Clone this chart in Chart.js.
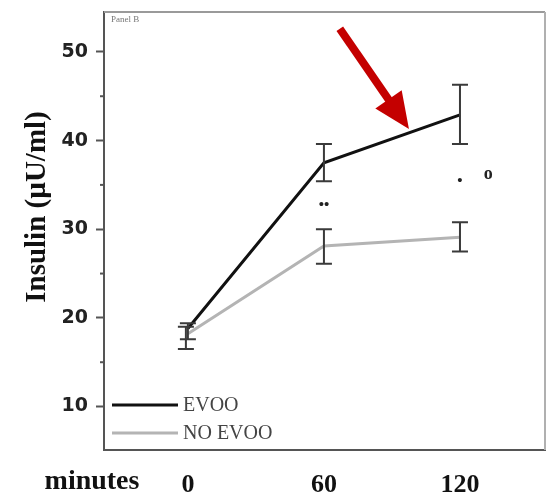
<!DOCTYPE html>
<html>
<head>
<meta charset="utf-8">
<script src="https://cdn.jsdelivr.net/npm/chart.js@4/dist/chart.umd.min.js"></script>
<style>
  html, body { margin: 0; padding: 0; background: #fff; }
  #wrap { width: 552px; height: 495px; }
</style>
</head>
<body>
<div id="wrap"><canvas id="insulinChart" width="552" height="495"></canvas></div>
<script>
// minutes after meal
const minutes = [0, 60, 120];

// insulin (uU/ml), means and error bar ends
const evoo = [18.8, 37.5, 42.9];
const evooHigh = [19.4, 39.6, 46.3];
const evooLow = [17.6, 35.4, 39.6];

const noEvoo = [18.2, 28.1, 29.1];
const noEvooHigh = [19.0, 30.0, 30.8];
const noEvooLow = [16.5, 26.1, 27.5];

const yTicks = [10, 20, 30, 40, 50];

// significance marks: [minute, value, text]
const marks = [
    [60, 32.7, "••"],
    [120, 35.4, "•"],
    [132.5, 36.2, "o"],
];

// red arrow pointing at the EVOO line: [minute, value]
const arrowFrom = [67, 52.6];
const arrowTo = [97.5, 41.3];

const serif = "'Liberation Serif', 'Times New Roman', serif";

const errorBars = {
    id: "errorBars",
    afterDatasetsDraw(chart) {
        const { ctx, scales: { x, y } } = chart;
        const sets = [[evooHigh, evooLow], [noEvooHigh, noEvooLow]];
        ctx.save();
        ctx.strokeStyle = "#3a3a3a";
        ctx.lineWidth = 2;
        sets.forEach(([hi, lo], s) => {
            minutes.forEach((m, i) => {
                const px = x.getPixelForValue(m) + (s === 1 && i === 0 ? -2 : 0);
                const top = y.getPixelForValue(hi[i]);
                const bot = y.getPixelForValue(lo[i]);
                ctx.beginPath();
                ctx.moveTo(px, top); ctx.lineTo(px, bot);
                ctx.moveTo(px - 8, top); ctx.lineTo(px + 8, top);
                ctx.moveTo(px - 8, bot); ctx.lineTo(px + 8, bot);
                ctx.stroke();
            });
        });
        ctx.restore();
    }
};

const decorations = {
    id: "decorations",
    afterDraw(chart) {
        const { ctx, chartArea: a, scales: { x, y } } = chart;
        ctx.save();

        // frame: top and right edges
        ctx.strokeStyle = "#9a9a9a";
        ctx.lineWidth = 2;
        ctx.beginPath();
        ctx.moveTo(a.left, a.top); ctx.lineTo(a.right, a.top);
        ctx.stroke();
        ctx.strokeStyle = "#b0b0b0";
        ctx.beginPath();
        ctx.moveTo(a.right, a.top); ctx.lineTo(a.right, a.bottom);
        ctx.stroke();

        // minor ticks on y axis
        ctx.strokeStyle = "#555";
        ctx.lineWidth = 2;
        [15, 25, 35, 45].forEach(v => {
            const py = y.getPixelForValue(v);
            ctx.beginPath();
            ctx.moveTo(a.left - 4, py); ctx.lineTo(a.left, py);
            ctx.stroke();
        });

        // panel label
        ctx.fillStyle = "#777";
        ctx.font = "9px " + serif;
        ctx.textBaseline = "top";
        ctx.fillText("Panel B", a.left + 7, a.top + 3);

        // y title
        ctx.save();
        ctx.translate(38, 207);
        ctx.rotate(-Math.PI / 2);
        ctx.fillStyle = "#111";
        ctx.font = "bold 29px " + serif;
        ctx.textAlign = "center";
        ctx.textBaseline = "middle";
        ctx.fillText("Insulin (\u00b5U/ml)", 0, 0);
        ctx.restore();

        // x axis caption
        ctx.fillStyle = "#111";
        ctx.font = "bold 28px " + serif;
        ctx.textAlign = "center";
        ctx.textBaseline = "middle";
        ctx.fillText("minutes", 92, 482);

        // legend in the lower left corner
        ctx.textAlign = "left";
        ctx.font = "20px " + serif;
        chart.data.datasets.forEach((ds, i) => {
            const py = a.bottom - 45 + i * 28;
            ctx.strokeStyle = ds.borderColor;
            ctx.lineWidth = 3;
            ctx.beginPath();
            ctx.moveTo(a.left + 8, py); ctx.lineTo(a.left + 74, py);
            ctx.stroke();
            ctx.fillStyle = "#444";
            ctx.fillText(ds.label, a.left + 79, py + 1);
        });

        // significance marks
        ctx.fillStyle = "#222";
        ctx.textAlign = "center";
        marks.forEach(([m, v, t]) => {
            ctx.font = t === "o" ? "bold 18px " + serif : "bold 15px " + serif;
            ctx.fillText(t, x.getPixelForValue(m), y.getPixelForValue(v));
        });

        // red arrow
        const x0 = x.getPixelForValue(arrowFrom[0]), y0 = y.getPixelForValue(arrowFrom[1]);
        const x1 = x.getPixelForValue(arrowTo[0]), y1 = y.getPixelForValue(arrowTo[1]);
        const len = Math.hypot(x1 - x0, y1 - y0);
        const ux = (x1 - x0) / len, uy = (y1 - y0) / len;
        const headLen = 36, headHalf = 16;
        const bx = x1 - ux * headLen, by = y1 - uy * headLen;
        ctx.strokeStyle = "#c40000";
        ctx.fillStyle = "#c40000";
        ctx.lineWidth = 8;
        ctx.beginPath();
        ctx.moveTo(x0, y0); ctx.lineTo(bx + ux * 4, by + uy * 4);
        ctx.stroke();
        ctx.beginPath();
        ctx.moveTo(x1, y1);
        ctx.lineTo(bx - uy * headHalf, by + ux * headHalf);
        ctx.lineTo(bx + uy * headHalf, by - ux * headHalf);
        ctx.closePath();
        ctx.fill();

        ctx.restore();
    }
};

new Chart(document.getElementById("insulinChart").getContext("2d"), {
    type: "line",
    data: {
        datasets: [
            {
                label: "EVOO",
                data: minutes.map((m, i) => ({ x: m, y: evoo[i] })),
                borderColor: "#111111",
                borderWidth: 3,
                pointRadius: 0,
                tension: 0,
            },
            {
                label: "NO EVOO",
                data: minutes.map((m, i) => ({ x: m, y: noEvoo[i] })),
                borderColor: "#b4b4b4",
                borderWidth: 3,
                pointRadius: 0,
                tension: 0,
            },
        ],
    },
    options: {
        responsive: false,
        animation: false,
        layout: { padding: { top: 12, right: 7, left: 0, bottom: 0 } },
        plugins: {
            legend: { display: false },
            tooltip: { enabled: false },
        },
        scales: {
            x: {
                type: "linear",
                min: -37,
                max: 157.5,
                afterBuildTicks: axis => { axis.ticks = minutes.map(v => ({ value: v })); },
                afterFit: axis => {
                    axis.height = 45;
                    axis.paddingLeft = 0;
                    axis.paddingRight = 0;
                },
                grid: { drawOnChartArea: false, drawTicks: false },
                border: { display: true, color: "#555", width: 2 },
                ticks: {
                    padding: 20,
                    color: "#111",
                    font: { family: serif, size: 26, weight: "bold" },
                    maxRotation: 0,
                },
            },
            y: {
                type: "linear",
                min: 5.1,
                max: 54.5,
                afterBuildTicks: axis => { axis.ticks = yTicks.map(v => ({ value: v })); },
                afterFit: axis => {
                    axis.width = 104;
                    axis.paddingTop = 0;
                    axis.paddingBottom = 0;
                },
                grid: { drawOnChartArea: false, drawTicks: true, tickLength: 8, tickWidth: 2, tickColor: "#555" },
                border: { display: true, color: "#555", width: 2 },
                ticks: {
                    padding: 8,
                    color: "#222",
                    font: { family: "'DejaVu Sans', sans-serif", size: 19, weight: "bold" },
                },
            },
        },
    },
    plugins: [errorBars, decorations],
});
</script>
</body>
</html>
